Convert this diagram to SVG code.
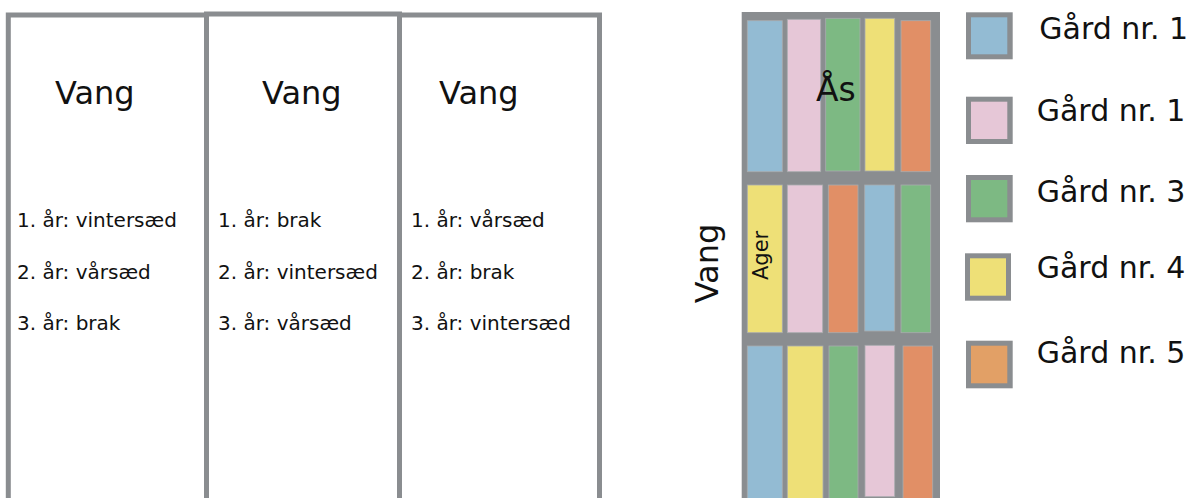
<svg xmlns="http://www.w3.org/2000/svg" width="1203" height="498" viewBox="0 0 1203 498">
<style>
.frame{fill:#fff;stroke:#8a8d90;stroke-width:5}
.t{font-family:"DejaVu Sans",sans-serif;fill:#111}
.big{font-size:32px}
.item{font-size:20px}
.leg{font-size:30px}
.gray{fill:#8a8d90}
.b{fill:#93bbd3}.p{fill:#e6c7d7}.g{fill:#7db983}.y{fill:#eee077}.o{fill:#e18f66}.o2{fill:#e2a066}
.cell{stroke:#a9acae;stroke-width:0.8}
</style>
<rect width="1203" height="498" fill="#fff"/>
<g id="vang-1">
<rect class="frame" x="8.3" y="15" width="198.2" height="520"/>
<text class="t big" x="55" y="104">Vang</text>
<text class="t item" x="17" y="227">1. år: vintersæd</text>
<text class="t item" x="17" y="279">2. år: vårsæd</text>
<text class="t item" x="17" y="330">3. år: brak</text>
</g>
<g id="vang-2">
<rect class="frame" x="206.5" y="14" width="193" height="520"/>
<text class="t big" x="262" y="104">Vang</text>
<text class="t item" x="218" y="227">1. år: brak</text>
<text class="t item" x="218" y="279">2. år: vintersæd</text>
<text class="t item" x="218" y="330">3. år: vårsæd</text>
</g>
<g id="vang-3">
<rect class="frame" x="399.5" y="15" width="200" height="520"/>
<text class="t big" x="439" y="104">Vang</text>
<text class="t item" x="411" y="227">1. år: vårsæd</text>
<text class="t item" x="411" y="279">2. år: brak</text>
<text class="t item" x="411" y="330">3. år: vintersæd</text>
</g>
<g id="field">
<rect class="gray" x="741.7" y="12" width="198.3" height="490"/>
<g id="row-as">
<rect class="cell b" x="747.3" y="20.7" width="35" height="151"/>
<rect class="cell p" x="787.3" y="19.3" width="33.4" height="152.4"/>
<rect class="cell g" x="825.7" y="18.3" width="34.3" height="152.7"/>
<rect class="cell y" x="865" y="18.3" width="29.7" height="152.7"/>
<rect class="cell o" x="901" y="20.7" width="29.7" height="151"/>
</g>
<g id="row-2">
<rect class="cell y" x="747.3" y="185" width="35" height="147.7"/>
<rect class="cell p" x="787.3" y="185" width="35.4" height="147.7"/>
<rect class="cell o" x="828.3" y="185" width="29.7" height="147.7"/>
<rect class="cell b" x="864.7" y="185" width="30" height="146"/>
<rect class="cell g" x="901" y="185" width="29.7" height="147.7"/>
</g>
<g id="row-3">
<rect class="cell b" x="747.3" y="346" width="35" height="160"/>
<rect class="cell y" x="787.3" y="346" width="35.7" height="160"/>
<rect class="cell g" x="829" y="346" width="29" height="160"/>
<rect class="cell p" x="865" y="345.3" width="29.7" height="151.4"/>
<rect class="cell o" x="903" y="346" width="29.7" height="160"/>
</g>
<text class="t" x="816" y="100.7" font-size="33">Ås</text>
<text class="t" transform="translate(768,280) rotate(-90)" font-size="21">Ager</text>
</g>
<g id="label-vang">
<text class="t" transform="translate(718.3,303.3) rotate(-90)" font-size="32">Vang</text>
</g>
<g id="legend-1">
<rect class="gray" x="966" y="12.3" width="46.7" height="47"/>
<rect class="b" x="971" y="17.3" width="36.3" height="37"/>
<text class="t leg" x="1039.3" y="39.3">Gård nr. 1</text>
</g>
<g id="legend-2">
<rect class="gray" x="966" y="96.7" width="46.7" height="47.3"/>
<rect class="p" x="971" y="101.7" width="36.3" height="37.3"/>
<text class="t leg" x="1036.7" y="120.7">Gård nr. 1</text>
</g>
<g id="legend-3">
<rect class="gray" x="966" y="175" width="46.7" height="47.3"/>
<rect class="g" x="971" y="180" width="36.3" height="37.3"/>
<text class="t leg" x="1036.7" y="201.7">Gård nr. 3</text>
</g>
<g id="legend-4">
<rect class="gray" x="965" y="253.3" width="46" height="47.4"/>
<rect class="y" x="970" y="258.3" width="36" height="37.4"/>
<text class="t leg" x="1036.7" y="278.3">Gård nr. 4</text>
</g>
<g id="legend-5">
<rect class="gray" x="966" y="340.7" width="46.7" height="47.6"/>
<rect class="o2" x="971" y="345.7" width="36.3" height="37.6"/>
<text class="t leg" x="1036.7" y="363.3">Gård nr. 5</text>
</g>
<g id="connectors"/>
</svg>
